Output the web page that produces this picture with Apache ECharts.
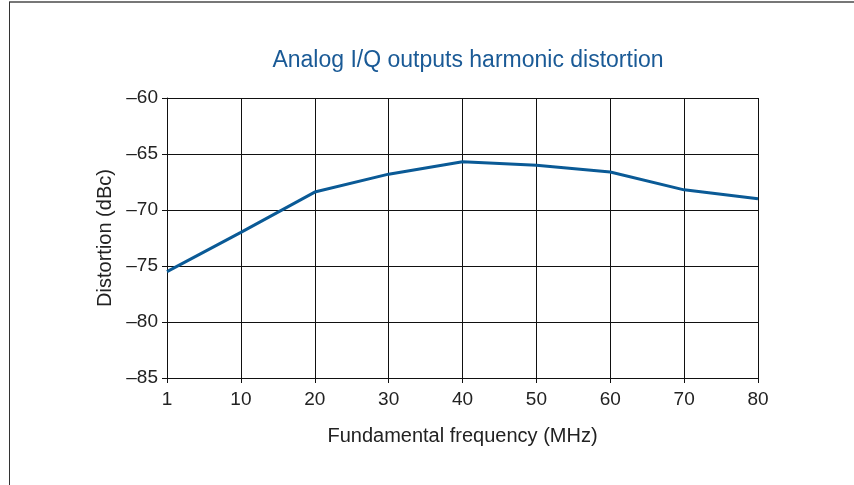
<!DOCTYPE html>
<html>
<head>
<meta charset="utf-8">
<script src="https://cdn.jsdelivr.net/npm/echarts@6/dist/echarts.min.js"></script>
<style>
  html, body { margin: 0; padding: 0; background: #fff; }
  #chart { width: 854px; height: 485px; }
</style>
</head>
<body>
<div id="chart"></div>
<script>
// data
var freqs = ['1', '10', '20', '30', '40', '50', '60', '70', '80'];
var distortion = [-75.5, -72, -68.4, -66.8, -65.7, -66, -66.6, -68.2, -69];

var fontName = '"Liberation Sans Narrow", "Liberation Sans", Arial, sans-serif';
var chart = echarts.init(document.getElementById('chart'));

var option = {
    animation: false,
    title: {
        text: 'Analog I/Q outputs harmonic distortion',
        left: 463,
        textAlign: 'center',
        top: 44,
        textStyle: { color: '#1a5a96', fontSize: 23, fontWeight: 'normal', fontFamily: fontName }
    },
    grid: { left: 167, right: 96, top: 98, bottom: 107 },
    xAxis: {
        type: 'category',
        data: freqs,
        boundaryGap: false,
        name: 'Fundamental frequency (MHz)',
        nameLocation: 'middle',
        nameGap: 48,
        nameTextStyle: { color: '#222', fontSize: 20, fontFamily: fontName },
        axisLine: { lineStyle: { color: '#111', width: 1 } },
        axisTick: { show: true, length: 5, lineStyle: { color: '#111' } },
        axisLabel: { color: '#222', fontSize: 19, fontFamily: fontName, margin: 12 },
        splitLine: { show: true, lineStyle: { color: '#111', width: 1 } }
    },
    yAxis: {
        type: 'value',
        min: -85,
        max: -60,
        interval: 5,
        name: 'Distortion (dBc)',
        nameLocation: 'middle',
        nameGap: 48,
        nameTextStyle: { color: '#222', fontSize: 20, fontFamily: fontName },
        axisLine: { show: true, lineStyle: { color: '#111', width: 1 } },
        axisTick: { show: true, length: 5, lineStyle: { color: '#111' } },
        axisLabel: {
            color: '#222', fontSize: 19, fontFamily: fontName, margin: 9,
            formatter: function (v) { return v < 0 ? '\u2013' + Math.abs(v) : String(v); }
        },
        splitLine: { show: true, lineStyle: { color: '#111', width: 1 } }
    },
    series: [{
        type: 'line',
        data: distortion,
        symbol: 'none',
        smooth: false,
        lineStyle: { color: '#0a5a96', width: 3 }
    }],
    graphic: [
        // outer frame lines
        { type: 'line', shape: { x1: 9, y1: 2, x2: 854, y2: 2 }, style: { stroke: '#777', lineWidth: 2 } },
        { type: 'line', shape: { x1: 9.5, y1: 2, x2: 9.5, y2: 485 }, style: { stroke: '#333', lineWidth: 1 } },
        // right border of plot
        { type: 'line', shape: { x1: 758.5, y1: 98, x2: 758.5, y2: 378 }, style: { stroke: '#111', lineWidth: 1 } }
    ]
};

chart.setOption(option);
</script>
</body>
</html>
